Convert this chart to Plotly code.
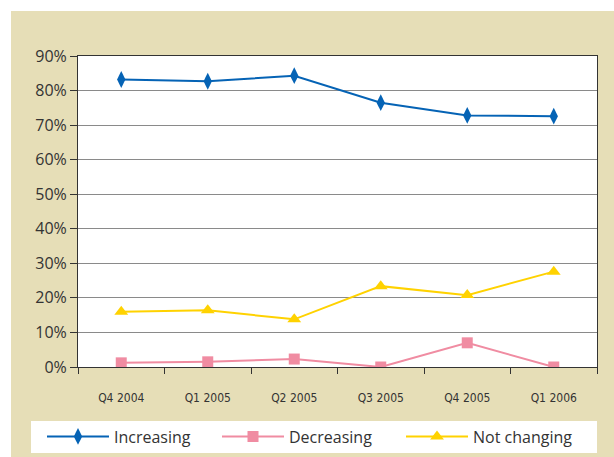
import plotly.graph_objects as go

categories = ["Q4 2004", "Q1 2005", "Q2 2005", "Q3 2005", "Q4 2005", "Q1 2006"]
increasing = [83.2, 82.7, 84.3, 76.5, 72.8, 72.6]
decreasing = [1.2, 1.5, 2.3, 0.0, 7.0, 0.0]
not_changing = [16.0, 16.4, 13.8, 23.4, 20.8, 27.6]
y_ticks = [0, 10, 20, 30, 40, 50, 60, 70, 80, 90]
y_tick_labels = [f"{v}%" for v in y_ticks]

W, H = 614, 457
ML, MR, MT, MB = 78, 17, 56, 90
pw = W - ML - MR
ph = H - MT - MB

BEIGE = "#e6deb7"
TXT = "#333333"

fig = go.Figure()
fig.add_trace(go.Scatter(
    x=categories, y=increasing, name="Increasing", mode="lines+markers",
    line=dict(color="#0563b5", width=2),
    marker=dict(symbol="diamond-tall", size=12, color="#0563b5"),
    legend="legend", showlegend=True,
))
fig.add_trace(go.Scatter(
    x=categories, y=decreasing, name="Decreasing", mode="lines+markers",
    line=dict(color="#f08ca2", width=2),
    marker=dict(symbol="square", size=11, color="#f08ca2"),
    legend="legend2", showlegend=True,
))
fig.add_trace(go.Scatter(
    x=categories, y=not_changing, name="Not changing", mode="lines+markers",
    line=dict(color="#ffd200", width=2),
    marker=dict(symbol="triangle-up", size=12, color="#ffd200"),
    legend="legend3", showlegend=True,
))

def px_x(px):
    return (px - ML) / pw

def px_y(py):
    return (H - MB - py) / ph

def leg(xpx):
    return dict(
        orientation="h", xref="container", yref="container",
        x=xpx / W, xanchor="left", y=1 - 419.5 / H, yanchor="top",
        bgcolor="rgba(0,0,0,0)", font=dict(size=16, color=TXT),
        itemwidth=62, visible=True,
    )

fig.update_layout(
    width=W, height=H,
    margin=dict(l=ML, r=MR, t=MT, b=MB),
    paper_bgcolor="white",
    plot_bgcolor="white",
    showlegend=True,
    font=dict(family="Open Sans, Noto Sans, sans-serif", color=TXT),
    shapes=[
        dict(type="rect", xref="paper", yref="paper", layer="below",
             x0=px_x(11), x1=px_x(W + 2), y0=px_y(H + 2), y1=px_y(11),
             fillcolor=BEIGE, line=dict(width=0)),
        dict(type="rect", xref="paper", yref="paper", layer="below",
             x0=0, x1=1, y0=0, y1=1,
             fillcolor="white", line=dict(width=0)),
        dict(type="rect", xref="paper", yref="paper", layer="below",
             x0=px_x(31), x1=px_x(597), y0=px_y(453), y1=px_y(421),
             fillcolor="white", line=dict(width=0)),
    ],
    xaxis=dict(
        type="category", range=[-0.5, 5.5],
        showgrid=False, showline=True, linecolor="#333333", linewidth=1, mirror=True,
        ticks="outside", tickson="boundaries", ticklen=6, tickcolor="#333333",
        ticklabelstandoff=20,
        tickfont=dict(family="Liberation Sans Narrow, DejaVu Sans Condensed, sans-serif", size=12, color=TXT),
    ),
    yaxis=dict(
        range=[0, 90], tickvals=y_ticks, ticktext=y_tick_labels,
        showgrid=True, gridcolor="#8a8a8a", gridwidth=1,
        showline=True, linecolor="#333333", linewidth=1, mirror=True,
        ticks="outside", ticklen=7, tickcolor="#333333",
        tickfont=dict(size=16, color=TXT), zeroline=False,
    ),
    legend=leg(42),
    legend2=leg(217),
    legend3=leg(401),
)

fig.write_html("out.html")
